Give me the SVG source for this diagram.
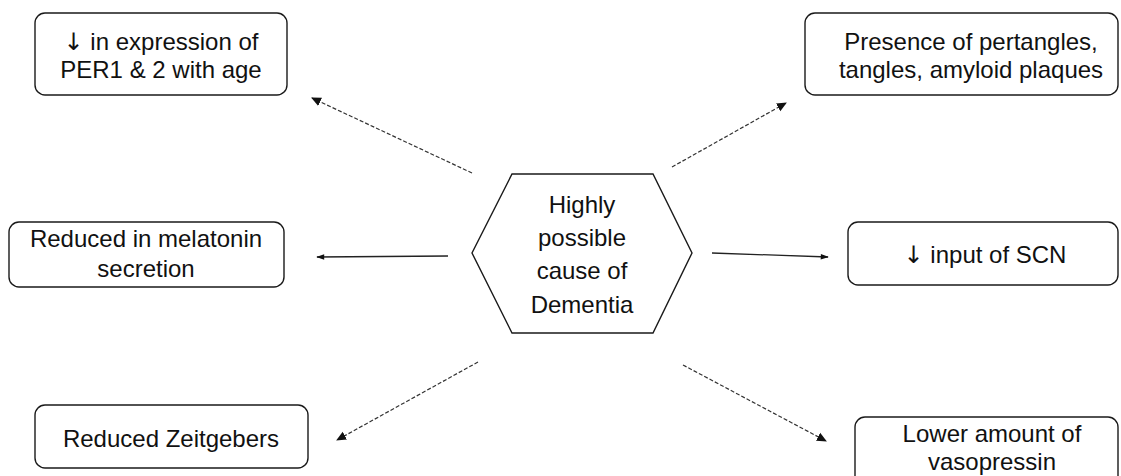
<svg xmlns="http://www.w3.org/2000/svg" width="1121" height="476" viewBox="0 0 1121 476">
  <defs>
    <style>
      .box { fill: #ffffff; stroke: #1a1a1a; stroke-width: 1.4; }
      .lbl { font-family: "Liberation Sans", Arial, sans-serif; font-size: 24px; fill: #111111; text-anchor: middle; }
      .sym { font-family: "DejaVu Sans", sans-serif; font-weight: normal; }
      .solid { stroke: #222222; stroke-width: 1.3; fill: none; }
      .dash { stroke: #333333; stroke-width: 1.2; fill: none; stroke-dasharray: 4 2; }
    </style>
    <marker id="head" viewBox="0 0 10 10" refX="9" refY="5" markerWidth="10" markerHeight="10" markerUnits="userSpaceOnUse" orient="auto">
      <path d="M0,0.5 L10,5 L0,9.5 Z" fill="#111111"/>
    </marker>
    <marker id="headThin" viewBox="0 0 10 10" refX="9" refY="5" markerWidth="10" markerHeight="8" markerUnits="userSpaceOnUse" orient="auto">
      <path d="M0,1.5 L10,5 L0,8.5 Z" fill="#111111"/>
    </marker>
  </defs>

  <rect width="1121" height="476" fill="#ffffff"/>

  <!-- connectors from the central hexagon -->
  <g id="connectors">
    <line class="dash" x1="472" y1="173" x2="312" y2="98" marker-end="url(#head)"/>
    <line class="dash" x1="672" y1="167" x2="786" y2="103" marker-end="url(#head)"/>
    <line class="solid" x1="448" y1="256" x2="317" y2="257" marker-end="url(#headThin)"/>
    <line class="solid" x1="712" y1="253" x2="828" y2="257" marker-end="url(#headThin)"/>
    <line class="dash" x1="478" y1="362" x2="337" y2="440" marker-end="url(#head)"/>
    <line class="dash" x1="683" y1="365" x2="826" y2="441" marker-end="url(#head)"/>
  </g>

  <g id="node-center">
    <polygon class="box" points="512,174 653,174 692,253 653,333 512,333 472,253"/>
    <text class="lbl" x="582" y="213">Highly</text>
    <text class="lbl" x="582" y="246">possible</text>
    <text class="lbl" x="582" y="279">cause of</text>
    <text class="lbl" x="582" y="313">Dementia</text>
  </g>

  <g id="node-per">
    <rect class="box" x="35" y="13" width="252" height="82" rx="10"/>
    <text class="lbl" x="161" y="50"><tspan class="sym">↓</tspan> in expression of</text>
    <text class="lbl" x="161" y="78">PER1 &amp; 2 with age</text>
  </g>

  <g id="node-plaques">
    <rect class="box" x="805" y="13" width="313" height="82" rx="10"/>
    <text class="lbl" x="971" y="50">Presence of pertangles,</text>
    <text class="lbl" x="971" y="78">tangles, amyloid plaques</text>
  </g>

  <g id="node-melatonin">
    <rect class="box" x="9" y="222" width="275" height="65" rx="10"/>
    <text class="lbl" x="146" y="247">Reduced in melatonin</text>
    <text class="lbl" x="146" y="277">secretion</text>
  </g>

  <g id="node-scn">
    <rect class="box" x="848" y="222" width="270" height="63" rx="10"/>
    <text class="lbl" x="985" y="263"><tspan class="sym">↓</tspan> input of SCN</text>
  </g>

  <g id="node-zeitgebers">
    <rect class="box" x="35" y="405" width="273" height="63" rx="10"/>
    <text class="lbl" x="171" y="447">Reduced Zeitgebers</text>
  </g>

  <g id="node-vasopressin">
    <rect class="box" x="855" y="417" width="263" height="75" rx="10"/>
    <text class="lbl" x="992" y="442">Lower amount of</text>
    <text class="lbl" x="992" y="470">vasopressin</text>
  </g>
</svg>
